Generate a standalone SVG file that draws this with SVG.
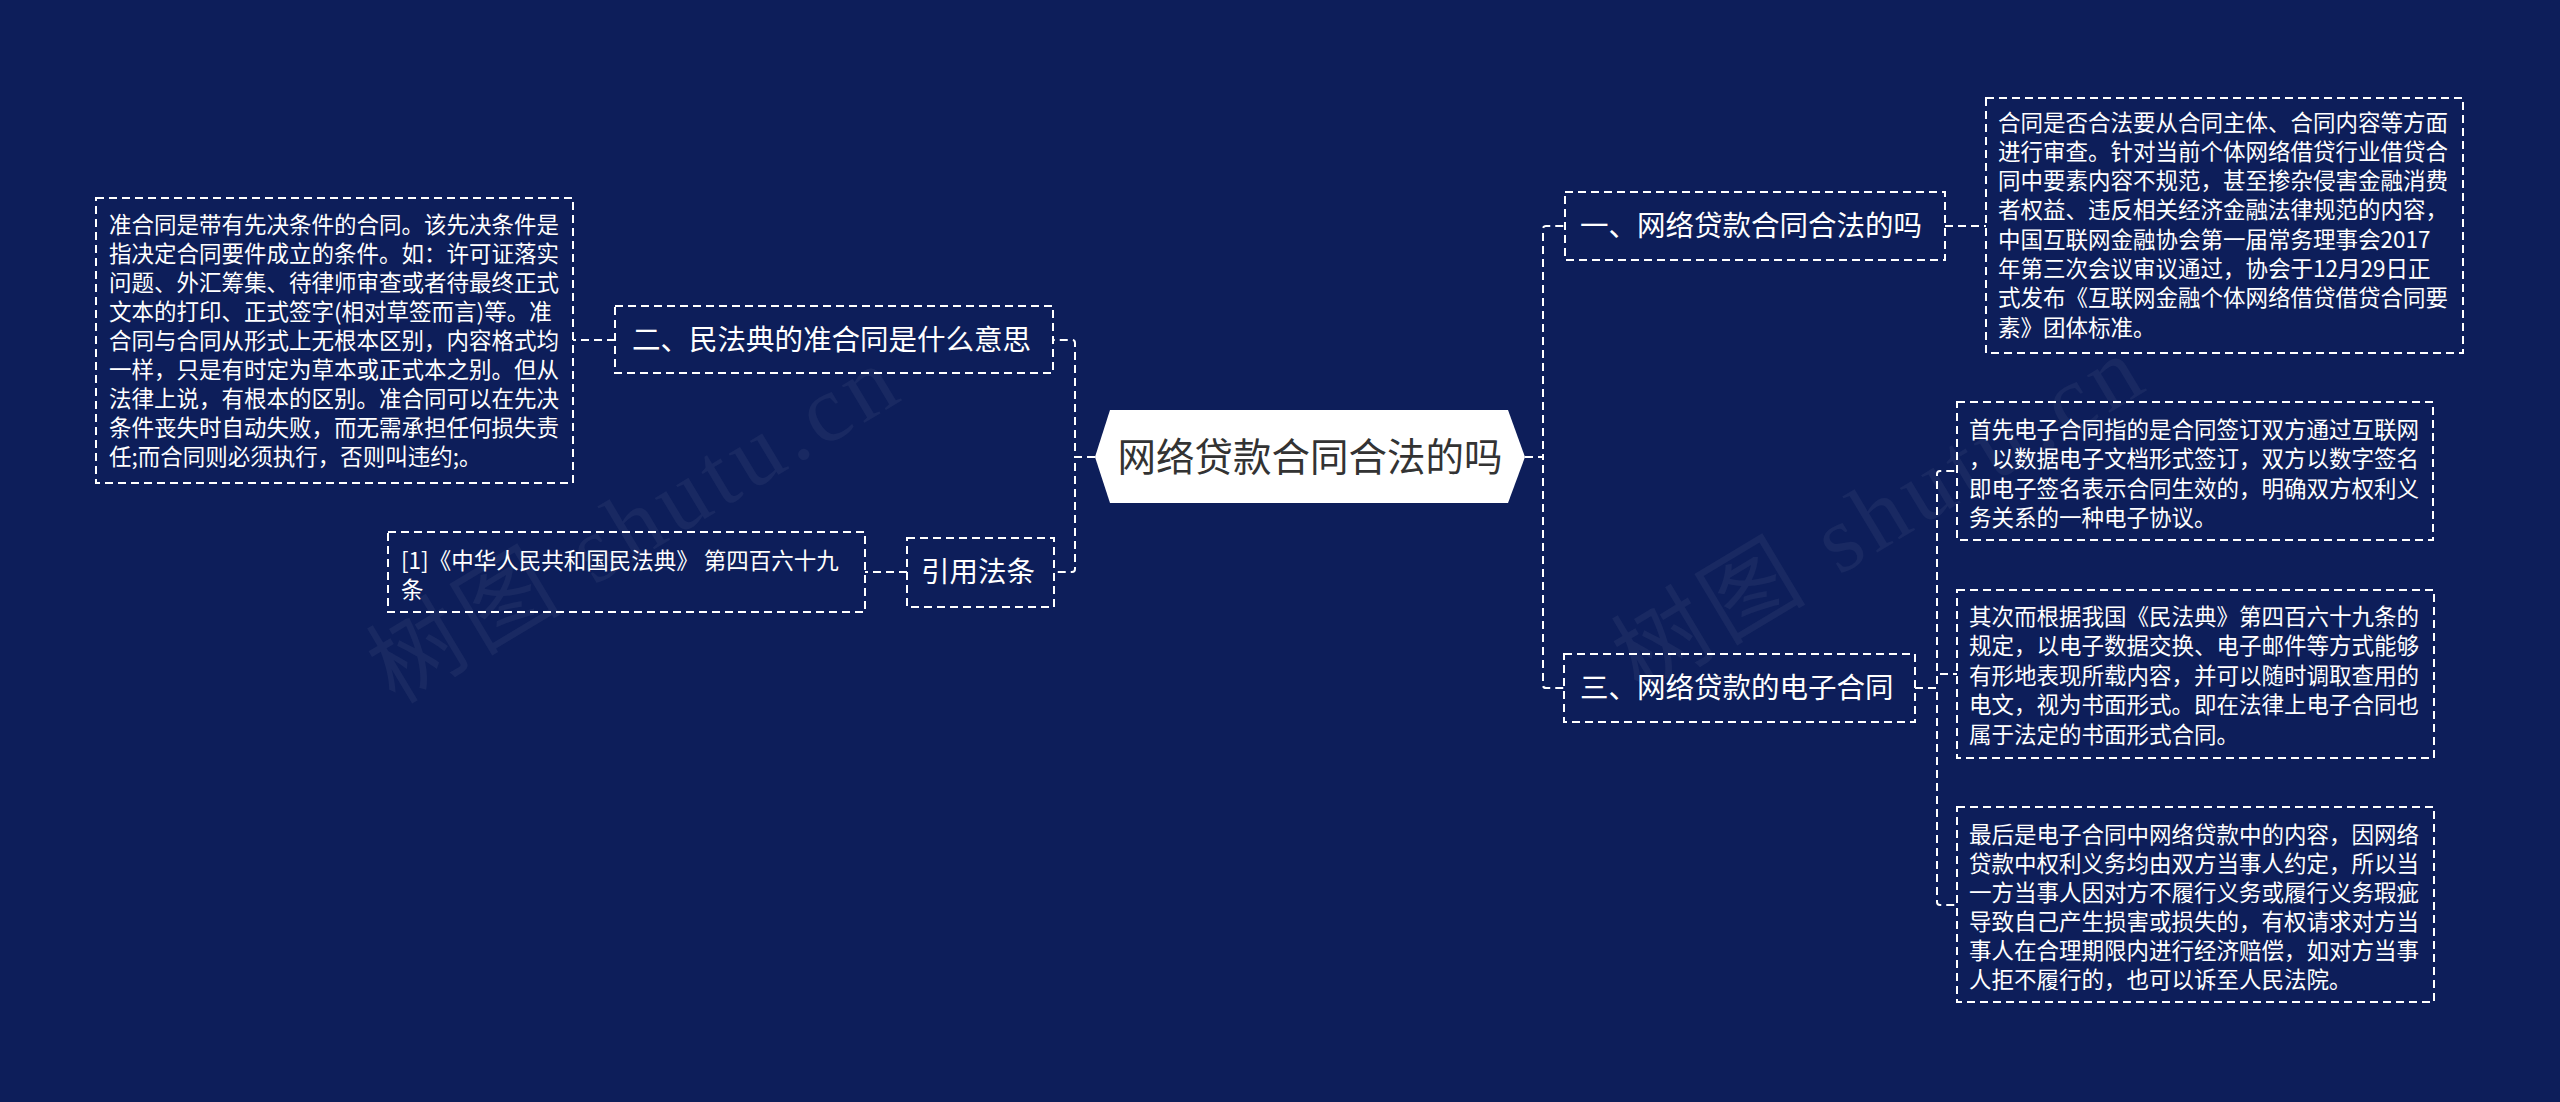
<svg xmlns="http://www.w3.org/2000/svg" width="2560" height="1102" viewBox="0 0 2560 1102">
<style>
.bg{fill:#0d1e5a}
.box{fill:none;stroke:#ffffff;stroke-width:2;stroke-dasharray:8 5}
.lnk{fill:none;stroke:#ffffff;stroke-width:2;stroke-dasharray:8 5}
.t1{font-family:"Noto Sans CJK SC","Noto Sans",sans-serif;font-size:28.5px;fill:#ffffff}
.t2{font-family:"Noto Sans CJK SC","Noto Sans",sans-serif;font-size:22.5px;fill:#ffffff}
.tc{font-family:"Noto Sans CJK SC","Noto Sans",sans-serif;font-size:38.5px;fill:#333333}
.wm{font-family:"Liberation Serif","Noto Sans CJK SC",serif;font-size:95px;letter-spacing:6px;fill:#ffffff;fill-opacity:0.05}
</style>
<rect class="bg" x="0" y="0" width="2560" height="1102"/>
<g id="watermark">
<text class="wm" transform="translate(395 705) rotate(-31)">树图 shutu.cn</text>
<text class="wm" transform="translate(1640 695) rotate(-31)">树图 shutu.cn</text>
</g>
<g id="connectors">
<path class="lnk" d="M1095 457 H1075 V343 Q1075 340 1072 340 H1053"/>
<path class="lnk" d="M1095 457 H1075 V569 Q1075 572 1072 572 H1054"/>
<path class="lnk" d="M615 340 H573"/>
<path class="lnk" d="M907 572 H865"/>
<path class="lnk" d="M1525 457 H1543 V229 Q1543 226 1546 226 H1565"/>
<path class="lnk" d="M1525 457 H1543 V685 Q1543 688 1546 688 H1564"/>
<path class="lnk" d="M1945 226 H1986"/>
<path class="lnk" d="M1915 688 H1937 V474 Q1937 471 1940 471 H1957"/>
<path class="lnk" d="M1915 688 H1937 V674 H1957"/>
<path class="lnk" d="M1915 688 H1937 V902 Q1937 905 1940 905 H1957"/>
</g>
<g id="root">
<polygon points="1095,457 1110,410 1508,410 1525,457 1508,503 1110,503" fill="#ffffff"/>
<text class="tc" x="1310" y="471" text-anchor="middle">网络贷款合同合法的吗</text>
</g>
<g id="n2">
<rect class="box" x="615" y="306" width="438" height="67"/>
<text class="t1" x="632" y="350">二、民法典的准合同是什么意思</text>
</g>
<g id="n2a">
<rect class="box" x="96" y="198" width="477" height="285"/>
<text class="t2" x="109" y="233">准合同是带有先决条件的合同。该先决条件是</text>
<text class="t2" x="109" y="262">指决定合同要件成立的条件。如：许可证落实</text>
<text class="t2" x="109" y="291">问题、外汇筹集、待律师审查或者待最终正式</text>
<text class="t2" x="109" y="320">文本的打印、正式签字(相对草签而言)等。准</text>
<text class="t2" x="109" y="349">合同与合同从形式上无根本区别，内容格式均</text>
<text class="t2" x="109" y="378">一样，只是有时定为草本或正式本之别。但从</text>
<text class="t2" x="109" y="407">法律上说，有根本的区别。准合同可以在先决</text>
<text class="t2" x="109" y="436">条件丧失时自动失败，而无需承担任何损失责</text>
<text class="t2" x="109" y="465">任;而合同则必须执行，否则叫违约;。</text>
</g>
<g id="n4">
<rect class="box" x="907" y="538" width="147" height="69"/>
<text class="t1" x="921" y="582">引用法条</text>
</g>
<g id="n4a">
<rect class="box" x="388" y="532" width="477" height="80"/>
<text class="t2" x="401" y="569">[1]《中华人民共和国民法典》 第四百六十九</text>
<text class="t2" x="401" y="598">条</text>
</g>
<g id="n1">
<rect class="box" x="1565" y="192" width="380" height="68"/>
<text class="t1" x="1580" y="236">一、网络贷款合同合法的吗</text>
</g>
<g id="n1a">
<rect class="box" x="1986" y="98" width="477" height="255"/>
<text class="t2" x="1998" y="131">合同是否合法要从合同主体、合同内容等方面</text>
<text class="t2" x="1998" y="160">进行审查。针对当前个体网络借贷行业借贷合</text>
<text class="t2" x="1998" y="189">同中要素内容不规范，甚至掺杂侵害金融消费</text>
<text class="t2" x="1998" y="218">者权益、违反相关经济金融法律规范的内容，</text>
<text class="t2" x="1998" y="248">中国互联网金融协会第一届常务理事会2017</text>
<text class="t2" x="1998" y="277">年第三次会议审议通过，协会于12月29日正</text>
<text class="t2" x="1998" y="306">式发布《互联网金融个体网络借贷借贷合同要</text>
<text class="t2" x="1998" y="336">素》团体标准。</text>
</g>
<g id="n3">
<rect class="box" x="1564" y="654" width="351" height="68"/>
<text class="t1" x="1580" y="698">三、网络贷款的电子合同</text>
</g>
<g id="n3a">
<rect class="box" x="1957" y="402" width="476" height="138"/>
<text class="t2" x="1969" y="438">首先电子合同指的是合同签订双方通过互联网</text>
<text class="t2" x="1969" y="467">，以数据电子文档形式签订，双方以数字签名</text>
<text class="t2" x="1969" y="497">即电子签名表示合同生效的，明确双方权利义</text>
<text class="t2" x="1969" y="526">务关系的一种电子协议。</text>
</g>
<g id="n3b">
<rect class="box" x="1957" y="590" width="477" height="168"/>
<text class="t2" x="1969" y="625">其次而根据我国《民法典》第四百六十九条的</text>
<text class="t2" x="1969" y="654">规定，以电子数据交换、电子邮件等方式能够</text>
<text class="t2" x="1969" y="684">有形地表现所载内容，并可以随时调取查用的</text>
<text class="t2" x="1969" y="713">电文，视为书面形式。即在法律上电子合同也</text>
<text class="t2" x="1969" y="743">属于法定的书面形式合同。</text>
</g>
<g id="n3c">
<rect class="box" x="1957" y="807" width="477" height="195"/>
<text class="t2" x="1969" y="843">最后是电子合同中网络贷款中的内容，因网络</text>
<text class="t2" x="1969" y="872">贷款中权利义务均由双方当事人约定，所以当</text>
<text class="t2" x="1969" y="901">一方当事人因对方不履行义务或履行义务瑕疵</text>
<text class="t2" x="1969" y="930">导致自己产生损害或损失的，有权请求对方当</text>
<text class="t2" x="1969" y="959">事人在合理期限内进行经济赔偿，如对方当事</text>
<text class="t2" x="1969" y="988">人拒不履行的，也可以诉至人民法院。</text>
</g>
</svg>
